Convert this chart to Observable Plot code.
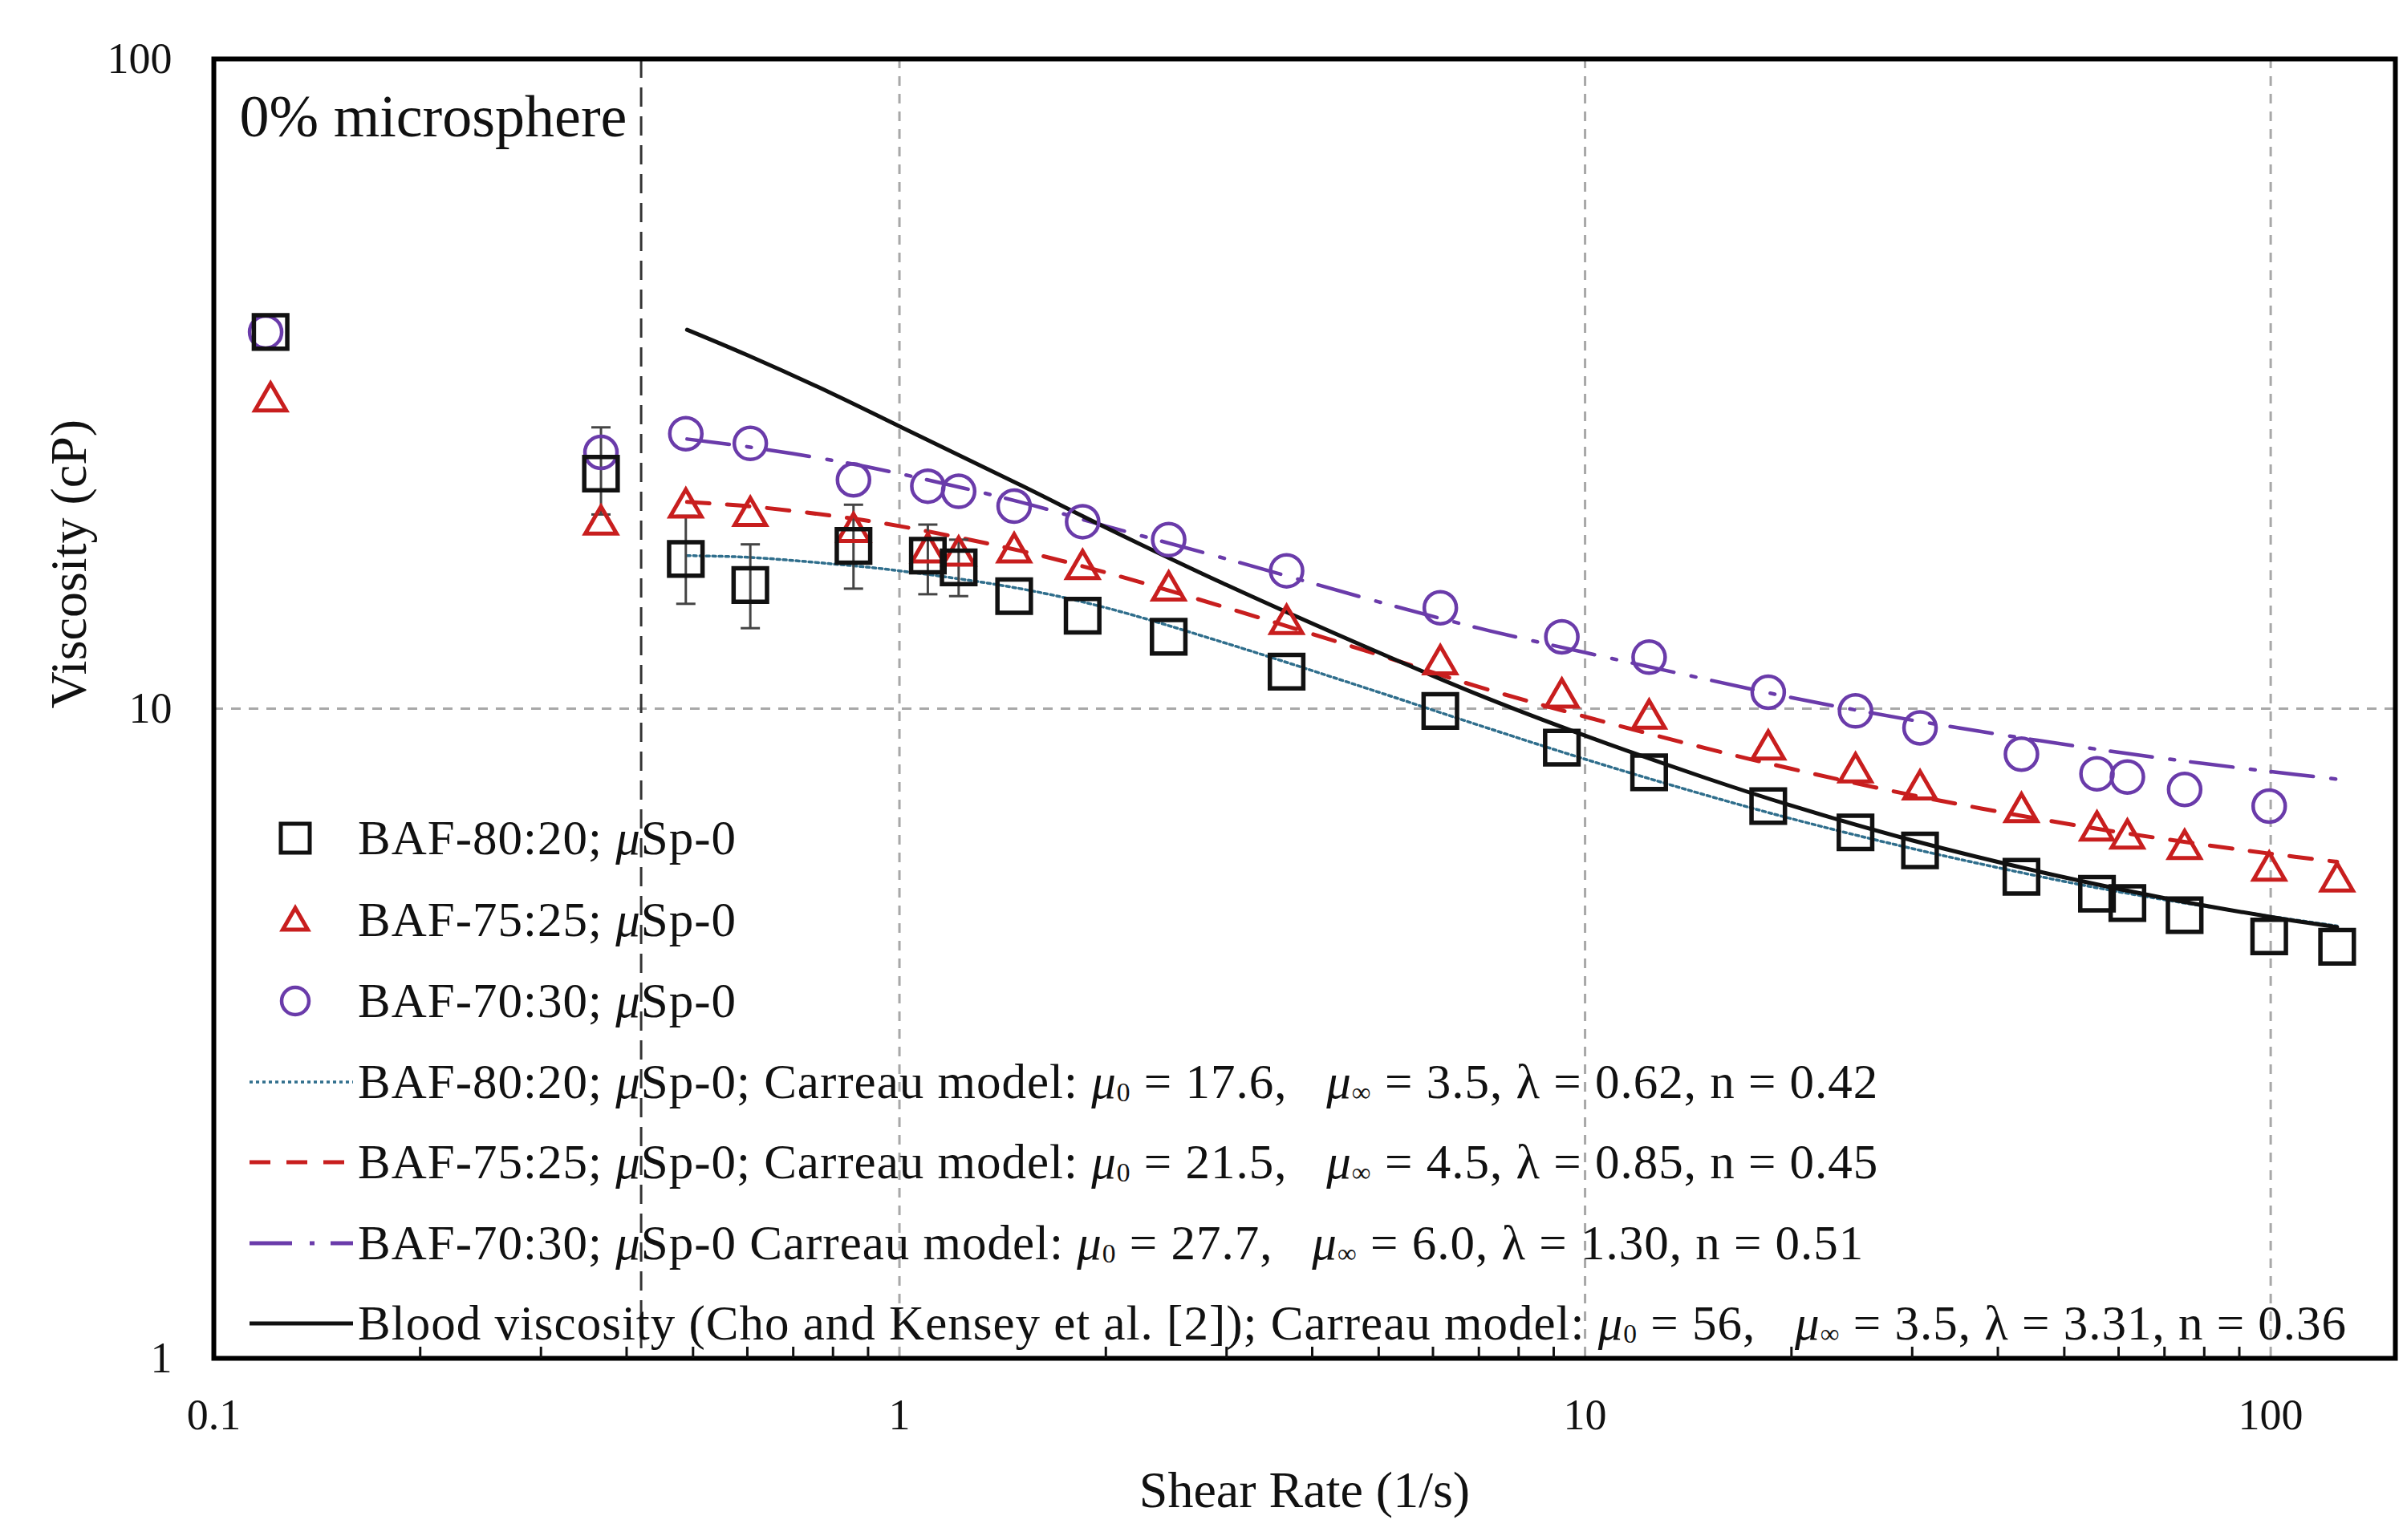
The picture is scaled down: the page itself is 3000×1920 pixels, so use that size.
<!DOCTYPE html>
<html>
<head>
<meta charset="utf-8">
<script src="https://cdn.jsdelivr.net/npm/d3@7"></script>
<script src="https://cdn.jsdelivr.net/npm/@observablehq/plot@0.6"></script>
<style>
html, body { margin: 0; padding: 0; background: #ffffff; }
#wrap { position: relative; width: 3000px; height: 1920px; font-family: "Liberation Serif", "Times New Roman", serif; }
#legendSvg { position: absolute; left: 0; top: 0; pointer-events: none; }
.row { position: absolute; left: 446px; white-space: pre; font-size: 61px; letter-spacing: 1px; line-height: 1; color: #111; }
.row sub { font-size: 0.55em; vertical-align: -0.12em; line-height: 0; }
</style>
</head>
<body>
<div id="wrap"></div>
<script>
// ---------- data ----------
const shearRate   = [0.121, 0.367, 0.488, 0.606, 0.857, 1.10, 1.22, 1.47, 1.85, 2.47, 3.67, 6.15, 9.25, 12.4, 18.5, 24.8, 30.8, 43.3, 55.8, 61.8, 74.9, 99.5, 125];
const viscBAF8020 = [38.0, 23.0, 17.0, 15.5, 17.8, 17.2, 16.5, 14.9, 13.9, 12.9, 11.4, 9.92, 8.71, 7.98, 7.08, 6.45, 6.05, 5.51, 5.19, 5.02, 4.81, 4.46, 4.30];
const viscBAF7525 = [29.7, 19.2, 20.4, 19.8, 18.7, 17.4, 17.2, 17.4, 16.4, 15.2, 13.5, 11.7, 10.4, 9.65, 8.65, 7.98, 7.51, 6.93, 6.49, 6.31, 6.08, 5.63, 5.42];
const viscBAF7030 = [38.0, 24.8, 26.5, 25.6, 22.5, 22.0, 21.6, 20.5, 19.4, 18.2, 16.3, 14.3, 12.9, 12.0, 10.6, 9.92, 9.34, 8.51, 7.94, 7.85, 7.51, 7.08, null];
const shearRateCircleLow = 0.119;

// Carreau model curves
const fitShear   = [0.49, 0.6, 0.8, 1, 1.5, 2, 3, 5, 7, 10, 15, 20, 30, 50, 70, 100, 125];
const fitBAF8020 = [17.2, 17.1, 16.7, 16.3, 15.3, 14.3, 12.6, 10.6, 9.43, 8.36, 7.36, 6.77, 6.09, 5.42, 5.08, 4.79, 4.63];
const fitBAF7525 = [20.8, 20.5, 19.8, 19.1, 17.5, 16.2, 14.3, 12.1, 10.8, 9.72, 8.69, 8.08, 7.36, 6.66, 6.30, 5.98, 5.81];
const fitBAF7030 = [26.0, 25.3, 24.1, 23.0, 20.8, 19.1, 17.0, 14.6, 13.3, 12.2, 11.1, 10.4, 9.60, 8.81, 8.38, 8.00, 7.79];
const fitBlood   = [38.3, 35.0, 30.5, 27.2, 22.1, 19.0, 15.5, 12.2, 10.5, 9.09, 7.82, 7.09, 6.27, 5.50, 5.11, 4.78, 4.61];

// error bars (BAF-80:20)
const errShear = [0.367, 0.488, 0.606, 0.857, 1.10, 1.22];
const errLow   = [19.9, 14.5, 13.3, 15.3, 15.0, 14.9];
const errHigh  = [27.1, 19.8, 17.9, 20.6, 19.2, 18.2];

const lowShearLimit = [0.42];
const xTicks = [0.1, 1, 10, 100];
const xMinorTicks = [0.2, 0.3, 0.4, 0.5, 0.6, 0.7, 0.8, 0.9, 2, 3, 4, 5, 6, 7, 8, 9, 20, 30, 40, 50, 60, 70, 80, 90];
const yTicks = [1, 10, 100];
const xGrid = [1, 10, 100];
const yGrid = [10];

const panelLabel = "0% microsphere";
const xTitle = "Shear Rate (1/s)";
const yTitle = "Viscosity (cP)";
const legendLabels = [
  'BAF-80:20; <i>μ</i>Sp-0',
  'BAF-75:25; <i>μ</i>Sp-0',
  'BAF-70:30; <i>μ</i>Sp-0',
  'BAF-80:20; <i>μ</i>Sp-0; Carreau model: <i>μ</i><sub>0</sub> = 17.6,   <i>μ</i><sub>∞</sub> = 3.5, λ = 0.62, n = 0.42',
  'BAF-75:25; <i>μ</i>Sp-0; Carreau model: <i>μ</i><sub>0</sub> = 21.5,   <i>μ</i><sub>∞</sub> = 4.5, λ = 0.85, n = 0.45',
  'BAF-70:30; <i>μ</i>Sp-0 Carreau model: <i>μ</i><sub>0</sub> = 27.7,   <i>μ</i><sub>∞</sub> = 6.0, λ = 1.30, n = 0.51',
  'Blood viscosity (Cho and Kensey et al. [2]); Carreau model: <i>μ</i><sub>0</sub> = 56,   <i>μ</i><sub>∞</sub> = 3.5, λ = 3.31, n = 0.36'
];

// ---------- styles ----------
const C_BLACK = "#111111", C_RED = "#C81E1E", C_PURPLE = "#6A3BAA", C_TEAL = "#2F6E8C";

// ---------- build tables ----------
const pts = (ys, xs = shearRate) => xs.map((x, i) => ({x, y: ys[i]})).filter(d => d.y != null);
const circleXs = shearRate.map((x, i) => i === 0 ? shearRateCircleLow : x);
const fit = (ys) => fitShear.map((x, i) => ({x, y: ys[i]}));
const errs = errShear.map((x, i) => ({x, lo: errLow[i], hi: errHigh[i]}));

const capSymbol = { draw(ctx, size) { const r = Math.sqrt(size / Math.PI); ctx.moveTo(-r, 0); ctx.lineTo(r, 0); } };

const W = 3000, H = 1920;
const chart = Plot.plot({
  width: W, height: H,
  marginLeft: 266, marginRight: 15, marginTop: 73, marginBottom: 227,
  style: { fontFamily: '"Liberation Serif", "Times New Roman", serif', background: "#ffffff", color: "#111" },
  x: { type: "log", domain: [0.1, 152] },
  y: { type: "log", domain: [1, 100] },
  marks: [
    Plot.ruleX(xGrid, { stroke: "#a8a8a8", strokeWidth: 3, strokeDasharray: "12,10" }),
    Plot.ruleY(yGrid, { stroke: "#a8a8a8", strokeWidth: 3, strokeDasharray: "12,10" }),
    Plot.ruleX(lowShearLimit, { stroke: "#333", strokeWidth: 3, strokeDasharray: "24,12" }),
    Plot.line(fit(fitBAF8020), { x: "x", y: "y", stroke: C_TEAL, strokeWidth: 3.5, strokeDasharray: "4,4", curve: "catmull-rom" }),
    Plot.line(fit(fitBAF7525), { x: "x", y: "y", stroke: C_RED, strokeWidth: 5, strokeDasharray: "28,22", curve: "catmull-rom" }),
    Plot.line(fit(fitBAF7030), { x: "x", y: "y", stroke: C_PURPLE, strokeWidth: 4.5, strokeDasharray: "53,22,6,20", curve: "catmull-rom" }),
    Plot.line(fit(fitBlood), { x: "x", y: "y", stroke: C_BLACK, strokeWidth: 5, curve: "catmull-rom" }),
    Plot.ruleX(errs, { x: "x", y1: "lo", y2: "hi", stroke: "#444", strokeWidth: 3 }),
    Plot.dot(errs, { x: "x", y: "lo", symbol: capSymbol, r: 12, stroke: "#444", strokeWidth: 3, fill: "none" }),
    Plot.dot(errs, { x: "x", y: "hi", symbol: capSymbol, r: 12, stroke: "#444", strokeWidth: 3, fill: "none" }),
    Plot.dot(pts(viscBAF7030, circleXs), { x: "x", y: "y", symbol: "circle", r: 20, stroke: C_PURPLE, strokeWidth: 4.5, fill: "none" }),
    Plot.dot(pts(viscBAF7525), { x: "x", y: "y", symbol: "triangle", r: 14.5, stroke: C_RED, strokeWidth: 5, fill: "none" }),
    Plot.dot(pts(viscBAF8020), { x: "x", y: "y", symbol: "square", r: 23.5, stroke: C_BLACK, strokeWidth: 5.5, fill: "none" }),
    Plot.frame({ stroke: "#000", strokeWidth: 6 }),
    Plot.axisX(xMinorTicks, { tickSize: -14, tickFormat: () => "", strokeWidth: 3, label: null }),
    Plot.axisX({ ticks: xTicks, tickFormat: d => String(d), tickSize: 0, tickPadding: 50, fontSize: 54, label: null }),
    Plot.axisY({ ticks: yTicks, tickFormat: d => String(d), tickSize: 0, tickPadding: 52, fontSize: 54, label: null }),
    Plot.text([panelLabel], { text: d => d, frameAnchor: "top-left", dx: 32, dy: 73, textAnchor: "start", lineAnchor: "middle", fontSize: 74 }),
    Plot.text([xTitle], { text: d => d, frameAnchor: "bottom", dy: 165, lineAnchor: "middle", fontSize: 64 }),
    Plot.text([yTitle], { text: d => d, frameAnchor: "left", dx: -180, rotate: -90, lineAnchor: "middle", fontSize: 64 })
  ]
});

const wrap = document.getElementById("wrap");
wrap.appendChild(chart);

// ---------- legend (inside the plot frame) ----------
const rowY = [1045, 1147, 1248, 1349, 1449, 1550, 1650];
const symX = 368, lineX1 = 311, lineX2 = 440, textX = 446;
const FS = 61;
const lsvg = d3.select(wrap).append("svg").attr("id", "legendSvg").attr("width", W).attr("height", H);
lsvg.append("rect").attr("x", symX - 18).attr("y", rowY[0] - 18).attr("width", 36).attr("height", 36)
  .attr("fill", "none").attr("stroke", C_BLACK).attr("stroke-width", 5);
lsvg.append("path").attr("transform", `translate(${symX},${rowY[1] + 3})`).attr("d", d3.symbol(d3.symbolTriangle, 420)())
  .attr("fill", "none").attr("stroke", C_RED).attr("stroke-width", 5);
lsvg.append("circle").attr("cx", symX).attr("cy", rowY[2]).attr("r", 17)
  .attr("fill", "none").attr("stroke", C_PURPLE).attr("stroke-width", 4.5);
const lineStyles = [
  { stroke: C_TEAL, w: 3.5, dash: "4,4" },
  { stroke: C_RED, w: 5, dash: "26,20" },
  { stroke: C_PURPLE, w: 5, dash: "53,22,6,20" },
  { stroke: C_BLACK, w: 5, dash: null }
];
lineStyles.forEach((s, i) => {
  const ln = lsvg.append("line").attr("x1", lineX1).attr("x2", lineX2).attr("y1", rowY[3 + i]).attr("y2", rowY[3 + i])
    .attr("stroke", s.stroke).attr("stroke-width", s.w);
  if (s.dash) ln.attr("stroke-dasharray", s.dash);
});
legendLabels.forEach((html, i) => {
  const div = document.createElement("div");
  div.className = "row";
  div.style.left = textX + "px";
  div.style.top = (rowY[i] - 0.51 * FS) + "px";
  div.innerHTML = html;
  wrap.appendChild(div);
});
</script>
</body>
</html>
